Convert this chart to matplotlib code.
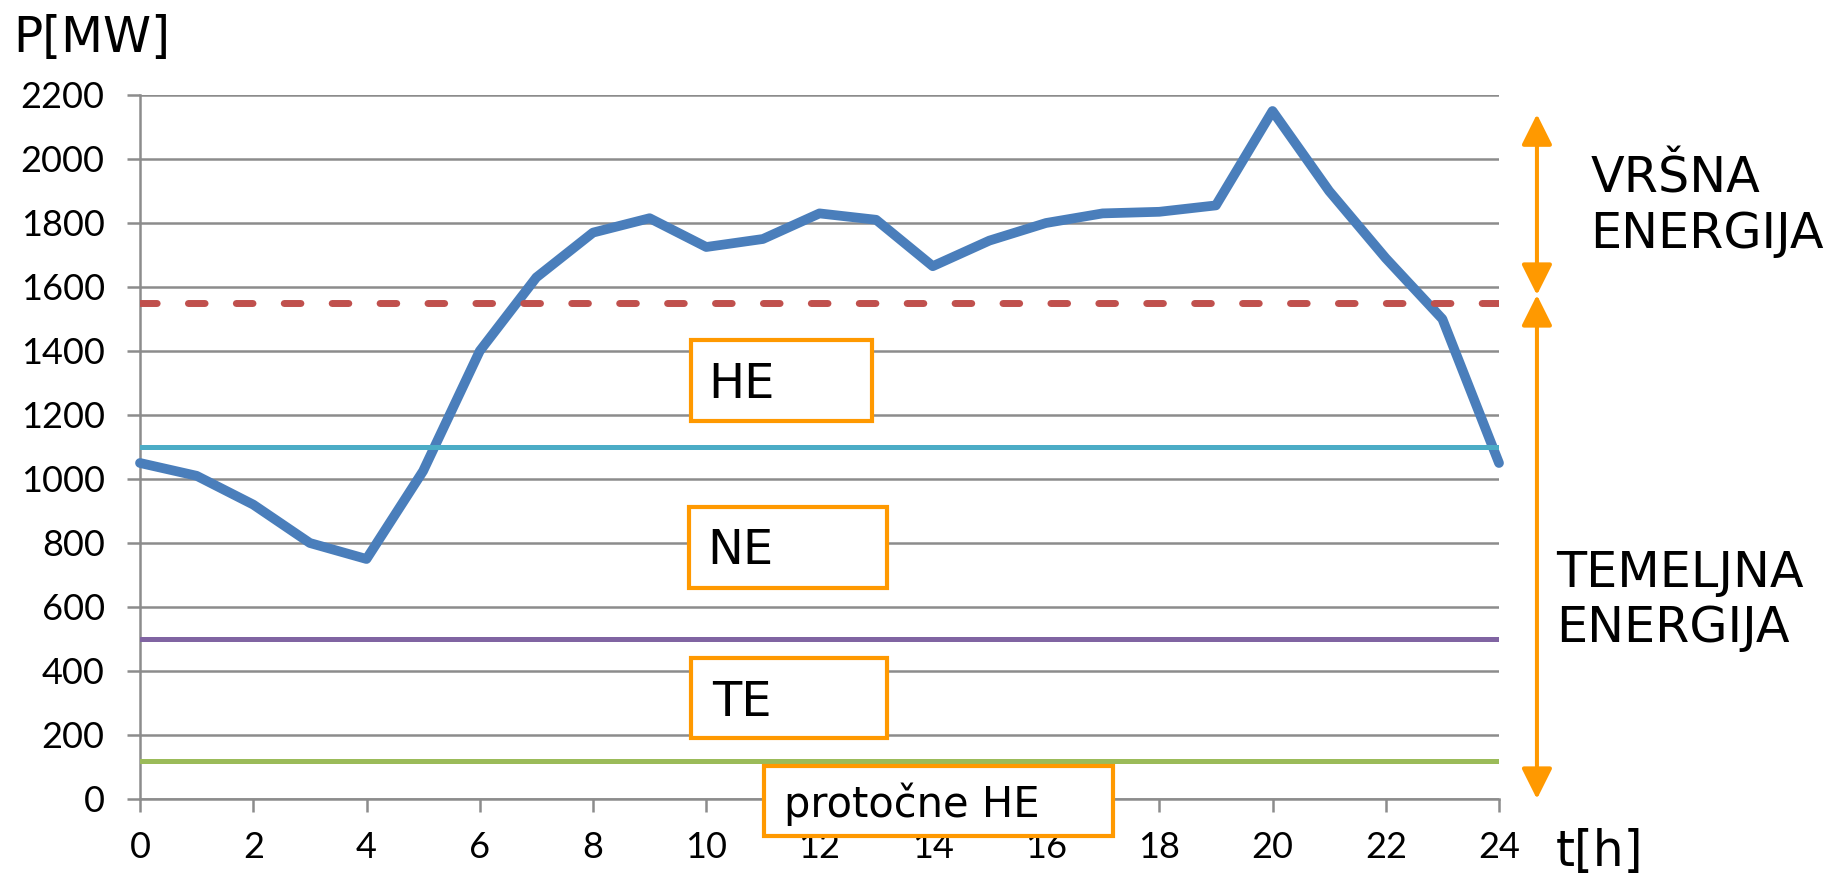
import matplotlib
matplotlib.use("Agg")
import matplotlib.pyplot as plt
from matplotlib.patches import Rectangle

# Daily load curve (hourly values, MW)
hours = list(range(25))
load_mw = [1050, 1010, 920, 800, 750, 1025, 1400, 1630, 1770, 1815, 1725, 1750,
           1830, 1810, 1665, 1745, 1800, 1830, 1835, 1855, 2150, 1900, 1690, 1500, 1050]

# Supply levels (MW)
peak_limit = 1550      # boundary of peak energy
he_level = 1100        # storage hydro
ne_level = 500         # nuclear
te_level = 120         # thermal / run-of-river boundary

x_ticks = list(range(0, 25, 2))
y_ticks = list(range(0, 2201, 200))

box_labels = ["HE", "NE", "TE", "protočne HE"]

W, H = 1835, 877
fig = plt.figure(figsize=(W / 100, H / 100), dpi=100)
fig.patch.set_facecolor("white")

ax_left, ax_right, ax_top, ax_bottom = 140, 1499, 95, 799
ax = fig.add_axes([ax_left / W, (H - ax_bottom) / H,
                   (ax_right - ax_left) / W, (ax_bottom - ax_top) / H])

grid_c = "#8c8c8c"
ax.set_xlim(0, 24)
ax.set_ylim(0, 2200)
ax.set_xticks(x_ticks)
ax.set_yticks(y_ticks)
ax.set_xticklabels([str(v) for v in x_ticks])
ax.set_yticklabels([str(v) for v in y_ticks])
for side in ("top", "right"):
    ax.spines[side].set_visible(False)
for side in ("left", "bottom"):
    ax.spines[side].set_color(grid_c)
    ax.spines[side].set_linewidth(1.8)
ax.yaxis.grid(True, color=grid_c, linewidth=1.8)
ax.set_axisbelow(True)
ax.tick_params(axis="both", direction="out", length=9.4, width=1.8, color=grid_c,
               labelsize=26, labelcolor="black")
ax.tick_params(axis="y", pad=16)
ax.tick_params(axis="x", pad=14)
for lab in ax.get_xticklabels() + ax.get_yticklabels():
    lab.set_family("Lato")

# load curve
ax.plot(hours, load_mw, color="#4A7EBB", linewidth=7.0, solid_joinstyle="round",
        solid_capstyle="round", zorder=3, clip_on=False)

# supply levels
lw_dash = 5.0
ax.axhline(peak_limit, color="#C0504D", linewidth=lw_dash,
           linestyle=(0, (12.0 / lw_dash, 22.5 / lw_dash)),
           dash_capstyle="round", zorder=4)
ax.axhline(he_level, color="#4BACC6", linewidth=3.6, zorder=4)
ax.axhline(ne_level, color="#8064A2", linewidth=3.6, zorder=4)
ax.axhline(te_level, color="#9BBB59", linewidth=3.6, zorder=4)

orange = "#FF9900"
txt_font = "DejaVu Sans"

# labelled boxes: (x0, x1, y0, y1, text x, text baseline, size)
boxes = [
    (9.73, 12.93, 1181, 1434, 10.03, 1253, 34.5),
    (9.70, 13.19, 659, 912, 10.01, 734, 34.5),
    (9.73, 13.19, 191, 441, 10.10, 259, 34.5),
    (11.02, 17.18, -116, 103, 11.37, -56, 30),
]
for label, (x0, x1, y0, y1, tx, ty, fs) in zip(box_labels, boxes):
    ax.add_patch(Rectangle((x0, y0), x1 - x0, y1 - y0, facecolor="white",
                           edgecolor=orange, linewidth=3.0, zorder=6, clip_on=False))
    ax.text(tx, ty, label, fontsize=fs, family=txt_font, ha="left", va="baseline",
            zorder=7, clip_on=False)

# energy range arrows
arrow_x = 24.67
split = 1575
arrow_kw = dict(arrowstyle="<|-|>,head_length=0.94,head_width=0.47",
                color=orange, linewidth=2.9, shrinkA=0, shrinkB=0, mutation_scale=20)
ax.annotate("", xy=(arrow_x, 2140), xytext=(arrow_x, split), xycoords="data",
            arrowprops=arrow_kw, annotation_clip=False)
ax.annotate("", xy=(arrow_x, split), xytext=(arrow_x, 0), xycoords="data",
            arrowprops=arrow_kw, annotation_clip=False)

ax.text(25.61, 1894, "VRŠNA", fontsize=35.5, family=txt_font, va="baseline", clip_on=False)
ax.text(25.61, 1722, "ENERGIJA", fontsize=35.5, family=txt_font, va="baseline", clip_on=False)
ax.text(25.0, 662, "TEMELJNA", fontsize=35.5, family=txt_font, va="baseline", clip_on=False)
ax.text(25.0, 490, "ENERGIJA", fontsize=35.5, family=txt_font, va="baseline", clip_on=False)

# axis titles
ax.text(-2.24, 2334, "P[MW]", fontsize=35, family=txt_font, va="baseline", clip_on=False)
ax.text(25.0, -209, "t[h]", fontsize=35, family=txt_font, va="baseline", clip_on=False)

fig.savefig("out.png", dpi=100, facecolor="white")
